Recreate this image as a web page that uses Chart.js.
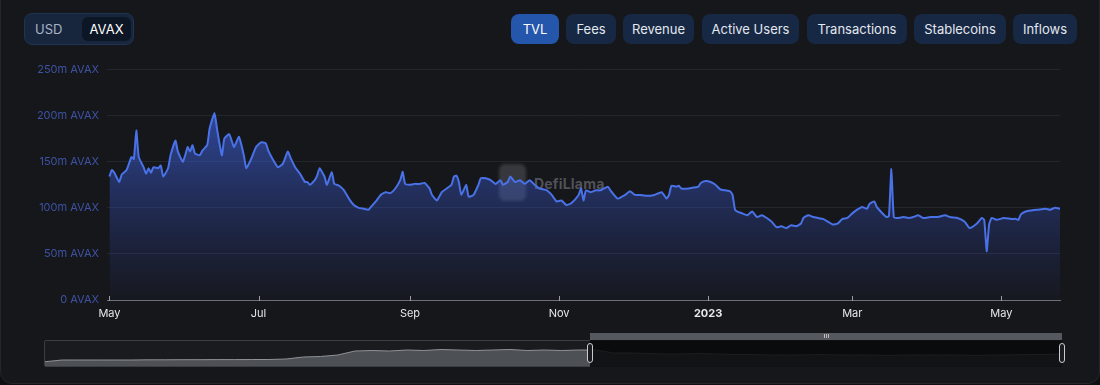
<!DOCTYPE html>
<html><head><meta charset="utf-8">
<script src="https://cdn.jsdelivr.net/npm/chart.js@4.4.1/dist/chart.umd.min.js"></script>
<style>
html,body{margin:0;padding:0;background:#0e0f12;width:1100px;height:385px;overflow:hidden;font-family:Inter,"Noto Sans",sans-serif;}
#card{position:absolute;left:0;top:-12px;width:1098px;height:394px;background:#16171b;border:1px solid #24262c;border-radius:12px;}
.abs{position:absolute;}
#toggle{left:24px;top:13px;width:110px;height:32px;background:#17263d;border:1px solid #1f3452;border-radius:8px;box-sizing:border-box;}
#usd{left:10px;top:0;height:30px;line-height:30px;font-size:13px;color:#a9b4c6;}
#avax{left:57px;top:3px;width:49px;height:24px;line-height:24px;text-align:center;font-size:13px;color:#fff;background:#0d1625;border-radius:6px;}
.btn{position:absolute;top:14px;height:30px;line-height:30px;text-align:center;font-size:13px;color:#e3e7ee;background:#172844;border-radius:8px;}
.btn.on{background:#2456ab;color:#fff;}
#wm-logo{left:499px;top:164px;width:27px;height:37px;background:rgba(190,190,200,0.2);border-radius:6px;filter:blur(1.5px);}
#wm-text{left:534px;top:175px;font-size:14px;font-weight:700;color:rgba(210,212,220,0.33);letter-spacing:0.2px;}
#mainwrap{position:absolute;left:0;top:55px;width:1100px;height:270px;}
#frame{left:44px;top:340px;width:1018px;height:27px;border:1px solid #3b3e45;box-sizing:border-box;border-radius:2px;background:#1a1b1f;}
#miniwrap{position:absolute;left:45px;top:341px;width:1016px;height:25px;}
#sel{left:590px;top:340px;width:472px;height:27px;background:rgba(8,9,11,0.86);}
#selbar{left:590px;top:333px;width:472px;height:7px;background:#55585e;}
#grip{left:824px;top:334px;width:5px;height:4px;border-left:1px solid #bbb;border-right:1px solid #bbb;box-sizing:border-box;}
#grip:after{content:"";position:absolute;left:1px;top:0;width:1px;height:4px;background:#bbb;}
.handle{top:343px;width:6px;height:20px;border:1px solid #c9cbd0;border-radius:3px;background:#1b1c20;box-sizing:border-box;}
</style></head>
<body>
<div id="card"></div>
<div id="toggle" class="abs"><div id="usd" class="abs">USD</div><div id="avax" class="abs">AVAX</div></div>
<div class="btn on" style="left:511px;width:48px;">TVL</div>
<div class="btn" style="left:566px;width:50px;">Fees</div>
<div class="btn" style="left:623px;width:71px;">Revenue</div>
<div class="btn" style="left:702px;width:97px;">Active Users</div>
<div class="btn" style="left:807px;width:100px;">Transactions</div>
<div class="btn" style="left:914px;width:92px;">Stablecoins</div>
<div class="btn" style="left:1013px;width:64px;">Inflows</div>
<div id="wm-logo" class="abs"></div>
<div id="wm-text" class="abs">DefiLlama</div>
<div id="mainwrap"><canvas id="main" width="1100" height="270" style="width:1100px;height:270px;"></canvas></div>
<div id="frame" class="abs"></div>
<div id="miniwrap"><canvas id="mini" width="1016" height="25" style="width:1016px;height:25px;"></canvas></div>
<div id="sel" class="abs"></div>
<div id="selbar" class="abs"></div>
<div id="grip" class="abs"></div>
<div class="abs handle" style="left:587px;"></div>
<div class="abs handle" style="left:1059px;"></div>
<script>
// Days since 1 May 2022
const days = [0,1,2,4,5,7,9,10,11,12,14,15,16,17,18,20,21,22,24,25,27,28,30,31,32,33,34,35,37,38,40,41,43,44,46,47,49,50,51,53,55,56,58,60,62,64,65,67,69,71,73,74,76,78,80,81,82,84,85,86,88,89,91,92,94,96,98,100,102,104,106,107,109,111,113,115,117,119,120,121,123,125,127,129,131,132,134,136,138,140,141,142,143,144,146,147,149,151,152,154,156,158,160,161,163,164,166,168,170,172,174,176,179,181,183,185,187,189,192,193,194,195,197,199,201,204,205,208,211,213,215,217,220,223,226,228,229,230,232,233,234,237,239,241,242,244,246,248,250,252,254,255,256,257,259,261,263,265,267,269,271,273,275,277,279,281,283,284,286,288,290,292,294,296,298,300,302,304,306,308,310,311,313,314,316,318,319,320,321,323,325,327,329,331,333,336,339,342,344,347,350,352,355,357,358,359,360,361,363,366,369,371,372,373,375,377,380,383,385,387,389];
// TVL in millions of AVAX
const tvl = [134,141,138,128,136,141,155,153,184,155,144,137,143,138,144,143,146,134,143,157,173,161,150,157,166,161,168,159,157,162,168,186,203,186,157,175,180,173,166,177,157,143,153,166,171,170,162,152,144,148,161,155,144,137,128,128,125,130,135,143,134,125,139,126,124,119,110,103,100,99,98,101,107,114,117,116,121,130,139,126,125,126,126,127,121,114,108,117,121,125,134,135,128,114,125,112,114,125,132,132,130,126,130,125,128,134,128,130,126,130,125,121,119,114,107,108,103,105,114,121,108,119,117,119,119,123,119,110,114,118,114,114,113,114,117,110,114,124,123,124,121,121,122,123,127,129,128,125,120,119,118,114,98,96,94,92,96,90,92,89,85,79,80,78,81,80,83,89,92,90,89,88,85,82,83,88,89,94,98,101,99,104,107,101,95,90,91,142,90,89,90,89,90,92,89,90,90,92,90,89,85,78,83,89,87,53,82,89,87,89,88,88,87,93,96,97,98,99,98,100,99];
// X tick positions (days) and labels
const tickDays = [0,61,123,184,245,304,365];
const tickLabels = ['May','Jul','Sep','Nov','2023','Mar','May'];
// Y ticks (millions)
const yTicks = [0,50,100,150,200,250];
// Overview (data zoom) series, relative heights
const overviewSeries = [4.3,6,6,6,6,6,6.2,6.2,6.3,6.3,6.4,6.4,6.5,6.5,7,9,9.5,11,15,15.5,15,16,15.5,16.5,16,15.5,16,16.5,15.5,16,15.5,16,16,13,13,12.5,12,12,12.5,12,11.5,11.5,11,11,11,11.5,11,11,11,10.5,11,11,11,11,10.5,11,11,11.5,11.5,12];

const pts = days.map((d,i)=>({x:d,y:tvl[i]}));

const tickMarks = {
  id:'tickMarks',
  afterDraw(chart){
    const s = chart.scales.x, ctx = chart.ctx, b = chart.chartArea.bottom;
    ctx.save(); ctx.strokeStyle='#9a9ca2'; ctx.lineWidth=1;
    tickDays.forEach(d=>{const px=Math.round(s.getPixelForValue(d))+0.5; ctx.beginPath(); ctx.moveTo(px,b-4); ctx.lineTo(px,b+1); ctx.stroke();});
    ctx.restore();
  }
};

new Chart(document.getElementById('main'),{
  type:'line',
  data:{datasets:[{data:pts,borderColor:'#4a72e8',borderWidth:2,pointRadius:0,tension:0.15,fill:'origin',
    backgroundColor:(c)=>{const a=c.chart.chartArea; if(!a) return 'rgba(61,96,220,0.3)';
      const g=c.chart.ctx.createLinearGradient(0,a.top,0,a.bottom);
      g.addColorStop(0,'rgba(64,100,225,0.8)'); g.addColorStop(0.45,'rgba(60,94,215,0.42)'); g.addColorStop(1,'rgba(50,70,170,0.04)'); return g;}}]},
  options:{responsive:false,animation:false,events:[],devicePixelRatio:1,
    layout:{padding:{left:0,right:40,top:12,bottom:0}},
    plugins:{legend:{display:false},tooltip:{enabled:false}},
    scales:{
      x:{type:'linear',min:-1,max:389,
        afterFit:(s)=>{s.height=25;},
        afterBuildTicks:(s)=>{s.ticks=tickDays.map(v=>({value:v}));},
        grid:{display:true,drawOnChartArea:false,drawTicks:false},
        border:{display:true,color:'#6e7079',width:1},
        ticks:{padding:7,color:'#e6e7ea',maxRotation:0,autoSkip:false,
          font:(c)=>({family:'Inter, "Noto Sans", sans-serif',size:11,weight:(c.tick&&c.tick.value===245)?'bold':'normal'}),
          callback:(v)=>{const i=tickDays.indexOf(v);return i>=0?tickLabels[i]:'';}}},
      y:{min:0,max:250,
        afterFit:(s)=>{s.width=107;},
        afterBuildTicks:(s)=>{s.ticks=yTicks.map(v=>({value:v}));},
        grid:{color:'#23262d',drawTicks:false},
        border:{display:false},
        ticks:{padding:8,color:'#3d52a3',font:{family:'Inter, "Noto Sans", sans-serif',size:11},
          callback:(v)=>v===0?'0 AVAX':v+'m AVAX'}}
    }},
  plugins:[tickMarks]
});

new Chart(document.getElementById('mini'),{
  type:'line',
  data:{labels:overviewSeries.map((_,i)=>i),datasets:[{data:overviewSeries,borderColor:'#8e9197',borderWidth:1,pointRadius:0,tension:0,fill:'origin',backgroundColor:'rgba(120,123,130,0.55)'}]},
  options:{responsive:false,animation:false,events:[],devicePixelRatio:1,layout:{padding:0},
    plugins:{legend:{display:false},tooltip:{enabled:false}},
    scales:{x:{display:false,type:'linear',min:0,max:overviewSeries.length-1},y:{display:false,min:0,max:25}}}
});
</script>
</body></html>
